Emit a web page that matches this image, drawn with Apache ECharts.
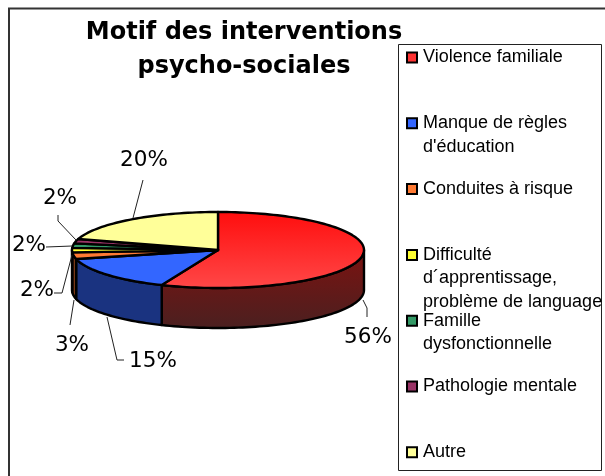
<!DOCTYPE html>
<html>
<head>
<meta charset="utf-8">
<title>Motif des interventions psycho-sociales</title>
<style>html,body{margin:0;padding:0;background:#fff}#pie{width:605px;height:476px}</style>
<script src="https://cdn.jsdelivr.net/npm/echarts@6/dist/echarts.min.js"></script>
</head>
<body>
<div id="pie"></div>
<script>
// data (share in %, labels are the rounded values)
var categories = ['Violence familiale', "Manque de règles\nd'éducation", 'Conduites à risque',
    'Difficulté\nd´apprentissage,\nproblème de language', 'Famille\ndysfonctionnelle', 'Pathologie mentale', 'Autre'];
var shares = [56.3, 14.9, 2.8, 1.9, 1.9, 1.9, 20.3];

var topColors = ['#ff3333', '#3366ff', '#ff7a33', '#ffff33', '#339966', '#993366', '#ffff99'];
var sideColors = ['#661a18', '#1a3380', '#803d1a', '#808019', '#1a4d33', '#4d1a33', '#80804d'];

// leader line bends and label centres for each slice, in px
var leaders = [
    {pts: [[367, 308], [367, 317]], label: [368, 337]},
    {pts: [[117, 360], [124, 360]], label: [153, 361]},
    {pts: [[70, 325]], label: [72, 345]},
    {pts: [[62, 293], [54, 293]], label: [37, 290]},
    {pts: [[46, 247]], label: [29, 245]},
    {pts: [[58, 221], [58, 215]], label: [60, 198]},
    {pts: [[143, 180]], label: [144, 160]}
];
var leaderStarts = [[363, 300], [107, 317], [74, 300], [72, 255], [72, 246], [76, 240], [133, 218]];

var cx = 218, cy = 250, rx = 146, ry = 38, depth = 40;
var total = shares.reduce(function (a, b) { return a + b; }, 0);

function pt(t, dy) {
    return [cx + rx * Math.sin(t), cy - ry * Math.cos(t) + (dy || 0)];
}
function arc(a, b, dy) {
    var out = [], n = Math.max(2, Math.ceil((b - a) / 0.03));
    for (var k = 0; k <= n; k++) out.push(pt(a + (b - a) * k / n, dy));
    return out;
}

function sliceRenderer(i) {
    return function () {
        var before = 0;
        for (var j = 0; j < i; j++) before += shares[j];
        var a = before / total * 2 * Math.PI;
        var b = (before + shares[i]) / total * 2 * Math.PI;
        var kids = [];

        // outer wall, only the front half of the ellipse shows
        var s0 = Math.max(a, Math.PI / 2), s1 = Math.min(b, Math.PI * 3 / 2);
        if (s1 > s0) {
            var wall = arc(s0, s1, 0).concat(arc(s0, s1, depth).reverse());
            kids.push({
                type: 'polygon', z2: 10,
                shape: {points: wall},
                style: {
                    fill: i === 0 ? {type: 'linear', x: 0, y: 0, x2: 0, y2: 1, colorStops: [
                        {offset: 0, color: '#7d1210'}, {offset: 1, color: '#4a2020'}]} : sideColors[i],
                    stroke: '#000', lineWidth: 2.4, lineJoin: 'round'
                }
            });
        }
        // top face
        kids.push({
            type: 'polygon', z2: 20,
            shape: {points: [[cx, cy]].concat(arc(a, b, 0))},
            style: {
                fill: i === 0 ? {type: 'linear', x: 0, y: 0, x2: 0, y2: 1, colorStops: [
                    {offset: 0, color: '#ff0d0d'}, {offset: 1, color: '#ff4848'}]} : topColors[i],
                stroke: '#000', lineWidth: 2.4, lineJoin: 'round'
            }
        });
        // leader and percent label
        kids.push({
            type: 'polyline', z2: 30,
            shape: {points: [leaderStarts[i]].concat(leaders[i].pts)},
            style: {fill: null, stroke: '#222', lineWidth: 1}
        });
        kids.push({
            type: 'text', z2: 30,
            x: leaders[i].label[0], y: leaders[i].label[1],
            style: {
                text: Math.round(shares[i]) + '%',
                font: '21.5px "DejaVu Sans"', fill: '#000', align: 'center', verticalAlign: 'middle'
            }
        });
        return {type: 'group', children: kids};
    };
}

var series = categories.map(function (name, i) {
    return {
        name: name,
        type: 'custom',
        coordinateSystem: 'none',
        silent: true,
        data: [shares[i]],
        itemStyle: {color: topColors[i]},
        renderItem: sliceRenderer(i)
    };
});

// one legend per entry: Excel gives every entry the same slot, symbol on the first line
var legendLine = 23.5, legendFirst = 57.5, legendSlot = 65.8;
var legends = categories.map(function (name, i) {
    var n = name.split('\n').length;
    return {
        data: [name],
        orient: 'vertical',
        left: 406,
        top: legendFirst + i * legendSlot - (2 * n - 1) * legendLine / 2,
        padding: 0,
        icon: 'rect',
        itemWidth: 10,
        itemHeight: 10,
        itemGap: 0,
        selectedMode: false,
        inactiveColor: '#000',
        itemStyle: {borderColor: '#000', borderWidth: 2},
        textStyle: {color: '#000', fontFamily: 'Liberation Sans', fontSize: 18, lineHeight: legendLine, padding: [0, 0, 0, 1]},
        formatter: function (s) {
            var lines = s.split('\n');
            return new Array(lines.length).join('\n') + s;
        }
    };
});

var mychart = echarts.init(document.getElementById('pie'), null, {renderer: 'canvas'});
var option = {
    animation: false,
    backgroundColor: '#fff',
    title: {
        text: 'Motif des interventions\npsycho-sociales',
        left: 244,
        top: 16,
        textAlign: 'center',
        padding: 0,
        textStyle: {fontFamily: 'DejaVu Sans', fontWeight: 'bold', fontSize: 24, color: '#000', lineHeight: 34}
    },
    legend: legends,
    graphic: [
        {type: 'rect', shape: {x: 9, y: 8.5, width: 620, height: 480}, style: {fill: 'none', stroke: '#333', lineWidth: 2}, silent: true, z: -1},
        {type: 'rect', shape: {x: 398.5, y: 44.5, width: 203, height: 426}, style: {fill: '#fff', stroke: '#222', lineWidth: 1}, silent: true, z: -1}
    ],
    series: series
};
mychart.setOption(option);
</script>
</body>
</html>
